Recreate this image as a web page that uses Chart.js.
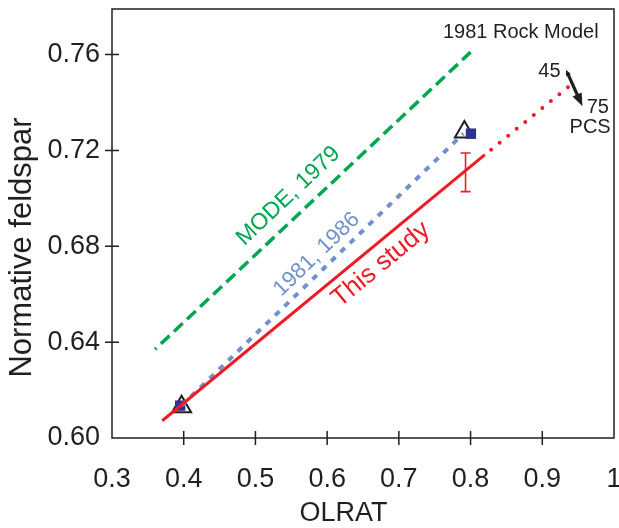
<!DOCTYPE html>
<html><head><meta charset="utf-8">
<script src="https://cdn.jsdelivr.net/npm/chart.js@4"></script>
<style>html,body{margin:0;padding:0;background:#fff;}canvas{display:block}</style>
</head><body>
<canvas id="c" width="619" height="528"></canvas>
<script>
// ---- data ----
const xTicks = [0.3, 0.4, 0.5, 0.6, 0.7, 0.8, 0.9, 1.0];
const xTickLabels = ['0.3', '0.4', '0.5', '0.6', '0.7', '0.8', '0.9', '1'];
const yTicks = [0.60, 0.64, 0.68, 0.72, 0.76];
const yTickLabels = ['0.60', '0.64', '0.68', '0.72', '0.76'];

const modeX = [0.36, 0.80];
const modeY = [0.637, 0.761];
const r8186X = [0.397, 0.79];
const r8186Y = [0.6135, 0.727];
const studyX = [0.37, 0.82];
const studyY = [0.6072, 0.7182];
const studyExtX = [0.82, 0.94];
const studyExtY = [0.7182, 0.7474];
const triangleX = [0.397, 0.7914];
const triangleY = [0.613, 0.7277];
const squareX = [0.395, 0.8005];
const squareY = [0.6135, 0.727];
const errX = [0.793];
const errLow = [0.7028];
const errHigh = [0.7189];
const pcsX = [0.933, 0.956];
const pcsY = [0.7537, 0.7384];
const pcsLabels = ['45', '75'];

const INK = '#231f20';
const GREEN = '#00a651';
const BLUE = '#7191cd';
const RED = '#ed1c24';
const NAVY = '#2e3192';
const FONT = '"Liberation Sans", Arial, Helvetica, sans-serif';

const pts = (xs, ys) => xs.map((x, i) => ({x, y: ys[i]}));

// ---- plugin for frame, ticks, annotations ----
const deco = {
  id: 'deco',
  afterDatasetsDraw(chart) {
    const ctx = chart.ctx, xs = chart.scales.x, ys = chart.scales.y, a = chart.chartArea;
    const px = v => xs.getPixelForValue(v), py = v => ys.getPixelForValue(v);
    ctx.save();
    // error bar
    ctx.strokeStyle = RED; ctx.lineWidth = 1.6;
    errX.forEach((x, i) => {
      const X = px(x), y1 = py(errLow[i]), y2 = py(errHigh[i]);
      ctx.beginPath();
      ctx.moveTo(X, y1); ctx.lineTo(X, y2);
      ctx.moveTo(X - 5, y1); ctx.lineTo(X + 5, y1);
      ctx.moveTo(X - 5, y2); ctx.lineTo(X + 5, y2);
      ctx.stroke();
    });
    // PCS arrow
    const ax1 = px(pcsX[0]), ay1 = py(pcsY[0]), ax2 = px(pcsX[1]), ay2 = py(pcsY[1]);
    const ang = Math.atan2(ay2 - ay1, ax2 - ax1);
    ctx.strokeStyle = INK; ctx.fillStyle = INK; ctx.lineWidth = 3.2;
    ctx.beginPath();
    ctx.moveTo(ax1 + 3 * Math.cos(ang), ay1 + 3 * Math.sin(ang));
    ctx.lineTo(ax2 - 8 * Math.cos(ang), ay2 - 8 * Math.sin(ang));
    ctx.stroke();
    const head = (x, y, a2, L, W) => {
      ctx.beginPath();
      ctx.moveTo(x, y);
      ctx.lineTo(x - L * Math.cos(a2) + W * Math.sin(a2), y - L * Math.sin(a2) - W * Math.cos(a2));
      ctx.lineTo(x - L * Math.cos(a2) - W * Math.sin(a2), y - L * Math.sin(a2) + W * Math.cos(a2));
      ctx.closePath(); ctx.fill();
    };
    head(ax2, ay2, ang, 13, 5);
    head(ax1, ay1, ang + Math.PI, 6, 2.5);
    // frame
    ctx.strokeStyle = INK; ctx.lineWidth = 1.5;
    ctx.strokeRect(a.left, a.top, a.right - a.left, a.bottom - a.top);
    // tick marks crossing the axes
    ctx.beginPath();
    xTicks.forEach(v => { const X = px(v); if (X > a.left + 2 && X < a.right - 2) { ctx.moveTo(X, a.bottom - 7); ctx.lineTo(X, a.bottom + 7); } });
    yTicks.forEach(v => { const Y = py(v); if (Y > a.top + 2 && Y < a.bottom - 2) { ctx.moveTo(a.left - 7, Y); ctx.lineTo(a.left + 7, Y); } });
    ctx.stroke();
    // texts
    ctx.fillStyle = INK; ctx.textBaseline = 'middle';
    ctx.font = '20px ' + FONT;
    ctx.textAlign = 'center';
    ctx.fillText('1981 Rock Model', px(0.870), py(0.7693));
    ctx.textAlign = 'right';
    ctx.fillText(pcsLabels[0], px(0.9255), py(0.7528));
    ctx.textAlign = 'left';
    ctx.fillText(pcsLabels[1], px(0.962), py(0.738));
    ctx.textAlign = 'center';
    ctx.fillText('PCS', px(0.9667), py(0.7297));
    // rotated line labels
    const rot = (txt, color, size, cx, cy, lx, ly) => {
      const angR = Math.atan2(py(ly[1]) - py(ly[0]), px(lx[1]) - px(lx[0]));
      ctx.save();
      ctx.translate(px(cx), py(cy));
      ctx.rotate(angR);
      ctx.fillStyle = color; ctx.font = size + 'px ' + FONT;
      ctx.textAlign = 'center'; ctx.textBaseline = 'middle';
      ctx.fillText(txt, 0, 0);
      ctx.restore();
    };
    rot('MODE, 1979', GREEN, 23, 0.546, 0.701, modeX, modeY);
    rot('1981, 1986', BLUE, 22, 0.5855, 0.6766, r8186X, r8186Y);
    rot('This study', RED, 26, 0.675, 0.6724, studyX, studyY);
    // axis titles
    ctx.fillStyle = INK;
    ctx.font = '27px ' + FONT;
    ctx.textAlign = 'center'; ctx.textBaseline = 'middle';
    ctx.fillText('OLRAT', 343.5, 514);
    ctx.save();
    ctx.translate(22, 247.5);
    ctx.rotate(-Math.PI / 2);
    ctx.font = '31px ' + FONT;
    ctx.fillText('Normative feldspar', 0, 0);
    ctx.restore();
    ctx.restore();
  }
};

new Chart(document.getElementById('c'), {
  type: 'scatter',
  data: {
    datasets: [
      { data: pts(studyX, studyY), showLine: true, borderColor: RED, borderWidth: 3, pointRadius: 0 },
      { data: pts(studyExtX, studyExtY), showLine: true, borderColor: RED, borderWidth: 4, borderDash: [0, 11], borderDashOffset: -8, borderCapStyle: 'round', pointRadius: 0 },
      { data: pts(r8186X, r8186Y), showLine: true, borderColor: BLUE, borderWidth: 4, borderDash: [6, 7], pointRadius: 0 },
      { data: pts(squareX, squareY), showLine: false, pointStyle: 'rect', pointRadius: 7.3, backgroundColor: NAVY, borderColor: NAVY, borderWidth: 0 },
      { data: pts(triangleX, triangleY), showLine: false, pointStyle: 'triangle', pointRadius: 11, backgroundColor: 'rgba(255,255,255,0)', borderColor: INK, borderWidth: 2 },
      { data: pts(modeX, modeY), showLine: true, borderColor: GREEN, borderWidth: 3.5, borderDash: [12, 6], borderDashOffset: 10, pointRadius: 0 }
    ]
  },
  options: {
    responsive: false, animation: false, devicePixelRatio: 1,
    layout: { autoPadding: false, padding: { top: 9, right: 5, left: 0, bottom: 0 } },
    plugins: { legend: { display: false }, tooltip: { enabled: false } },
    scales: {
      x: {
        type: 'linear', min: 0.3, max: 1.0,
        afterBuildTicks: s => { s.ticks = xTicks.map(v => ({value: v})); },
        afterFit: s => { s.height = 90; s.paddingLeft = 0; s.paddingRight = 0; },
        grid: { display: false, drawTicks: false }, border: { display: false },
        ticks: { color: INK, font: { family: FONT, size: 27 }, padding: 25, maxRotation: 0,
                 callback: (v, i) => xTickLabels[i] }
      },
      y: {
        type: 'linear', min: 0.6, max: 0.779,
        afterBuildTicks: s => { s.ticks = yTicks.map(v => ({value: v})); },
        afterFit: s => { s.width = 112; s.paddingTop = 0; s.paddingBottom = 0; },
        grid: { display: false, drawTicks: false }, border: { display: false },
        ticks: { color: INK, font: { family: FONT, size: 27 }, padding: 12,
                 callback: (v, i) => yTickLabels[i] }
      }
    }
  },
  plugins: [deco]
});
</script>
</body></html>
